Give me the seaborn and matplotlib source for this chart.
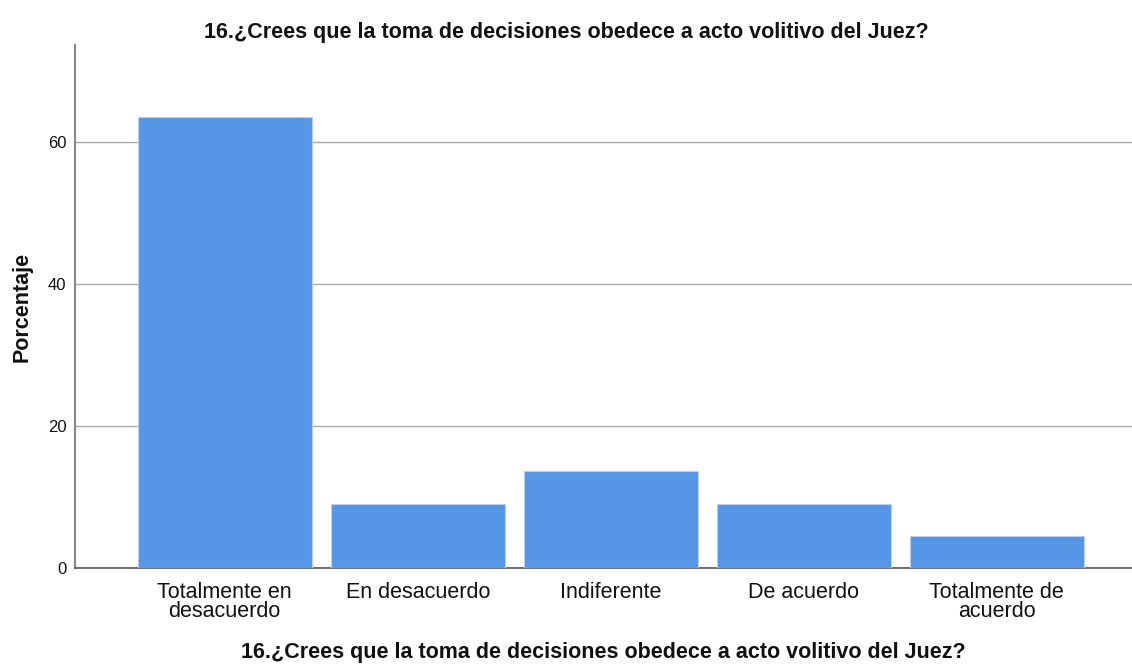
import matplotlib
matplotlib.use('Agg')
import matplotlib.pyplot as plt
import seaborn as sns
import pandas as pd

# data
categorias = ['Totalmente en\ndesacuerdo', 'En desacuerdo', 'Indiferente',
              'De acuerdo', 'Totalmente de\nacuerdo']
porcentaje = [63.64, 9.09, 13.64, 9.09, 4.55]
pregunta = '16.¿Crees que la toma de decisiones obedece a acto volitivo del Juez?'

df = pd.DataFrame({'Categoria': categorias, 'Porcentaje': porcentaje})

sns.set_style('white')
plt.rcParams['font.family'] = ['Liberation Sans', 'DejaVu Sans']
plt.rcParams['text.color'] = '#111111'
plt.rcParams['xtick.color'] = '#111111'
plt.rcParams['ytick.color'] = '#111111'
plt.rcParams['axes.labelcolor'] = '#111111'

fig = plt.figure(figsize=(11.32, 6.66), dpi=100)
ax = fig.add_axes([0.066, 0.147, 0.934, 0.785])

sns.barplot(data=df, x='Categoria', y='Porcentaje', color='#5596e6',
            width=0.9, edgecolor='#b3cff2', linewidth=0.8, saturation=1,
            zorder=3, ax=ax)

ax.set_xlim(-0.777, 4.70)
ax.set_ylim(0, 73.7)
ax.set_yticks([0, 20, 40, 60])
ax.yaxis.grid(True, color='#aaaaaa', linewidth=1, zorder=0)
ax.set_axisbelow(True)

for s in ['top', 'right']:
    ax.spines[s].set_visible(False)
ax.spines['left'].set_color('#888888')
ax.spines['left'].set_linewidth(1.5)
ax.spines['bottom'].set_color('#555555')
ax.spines['bottom'].set_linewidth(1.2)

ax.tick_params(axis='x', length=0, labelsize=15.5, pad=10)
ax.tick_params(axis='y', length=0, labelsize=12, pad=6)
for lbl in ax.get_xticklabels():
    lbl.set_linespacing(0.9)

ax.set_xlabel('')
ax.set_ylabel('Porcentaje', fontsize=15.5, fontweight='bold', labelpad=11)
# x axis title placed near the bottom edge like the original
fig.text(0.533, 0.02, pregunta, ha='center', va='center',
         fontsize=15.5, fontweight='bold')
fig.text(0.5, 0.951, pregunta, ha='center', va='center',
         fontsize=15.5, fontweight='bold')

plt.savefig('out.png', dpi=100)
